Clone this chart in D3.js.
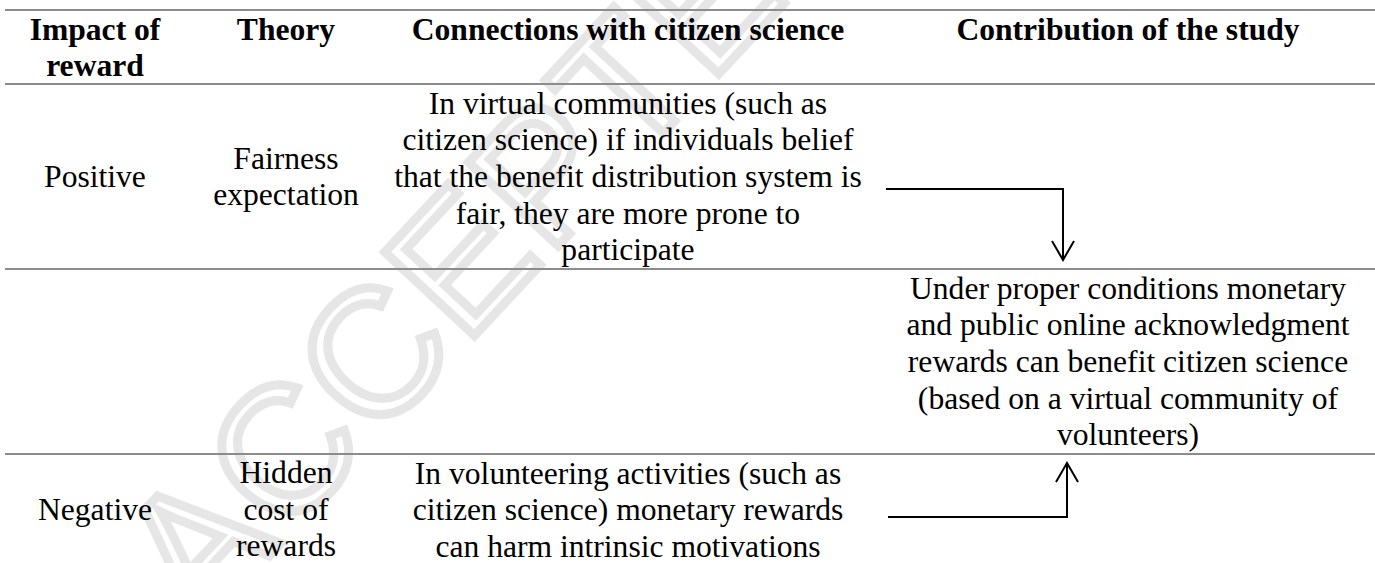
<!DOCTYPE html>
<html>
<head>
<meta charset="utf-8">
<script src="https://cdn.jsdelivr.net/npm/d3@7"></script>
<style>
  html, body { margin: 0; padding: 0; background: #fff; }
  svg { display: block; }
</style>
</head>
<body>
<svg id="chart" width="1375" height="563"></svg>
<script>
// ---------- data ----------
const headers = [
  ["Impact of", "reward"],
  ["Theory"],
  ["Connections with citizen science"],
  ["Contribution of the study"]
];
const impacts = [["Positive"], [], ["Negative"]];
const theories = [["Fairness", "expectation"], [], ["Hidden", "cost of", "rewards"]];
const connections = [
  ["In virtual communities (such as", "citizen science) if individuals belief",
   "that the benefit distribution system is", "fair, they are more prone to", "participate"],
  [],
  ["In volunteering activities (such as", "citizen science) monetary rewards",
   "can harm intrinsic motivations"]
];
const contributions = [
  [],
  ["Under proper conditions monetary", "and public online acknowledgment",
   "rewards can benefit citizen science", "(based on a virtual community of", "volunteers)"],
  []
];
const arrows = [
  { from: 0, to: 1, dir: "down" },
  { from: 2, to: 1, dir: "up" }
];
const watermark = "ACCEPTED";

// ---------- layout ----------
const W = 1375, H = 563;
const svg = d3.select("#chart");
const fontSize = 31.6, lh = 36.6, baseOff = 28.8;
const colX = d3.scaleOrdinal().domain([0, 1, 2, 3]).range([95, 286, 628, 1128]);
const rowTop = [10, 84, 269, 454];
const rowBottom = [84, 269, 454, 564];

// watermark
svg.append("text")
  .attr("transform", "translate(200,630) rotate(-47)")
  .attr("font-family", "'Liberation Sans', Arial, sans-serif")
  .attr("font-size", 178)
  .attr("letter-spacing", 4)
  .attr("fill", "none")
  .attr("stroke", "#e6e6e6")
  .attr("stroke-width", 9)
  .text(watermark);

// rules
const ruleY = [10, 84, 269, 454];
svg.selectAll("line.rule").data(ruleY).join("line")
  .attr("class", "rule")
  .attr("x1", 5).attr("x2", W)
  .attr("y1", d => d).attr("y2", d => d)
  .attr("stroke", "#8c8c8c").attr("stroke-width", 2);

function cellText(lines, col, rowIdx, bold, topAlign) {
  if (!lines.length) return;
  const top = rowTop[rowIdx], bot = rowBottom[rowIdx];
  const start = topAlign ? top + 1 : (top + bot) / 2 - lines.length * lh / 2;
  svg.append("g").selectAll("text").data(lines).join("text")
    .attr("x", colX(col))
    .attr("y", (d, i) => start + baseOff + i * lh)
    .attr("text-anchor", "middle")
    .attr("font-family", "'Liberation Serif', 'Times New Roman', serif")
    .attr("font-size", fontSize)
    .attr("font-weight", bold ? "bold" : "normal")
    .attr("fill", "#000")
    .text(d => d);
}

headers.forEach((h, c) => cellText(h, c, 0, true, true));
for (let r = 0; r < 3; r++) {
  cellText(impacts[r], 0, r + 1, false, false);
  cellText(theories[r], 1, r + 1, false, false);
  cellText(connections[r], 2, r + 1, false, r === 2);
  cellText(contributions[r], 3, r + 1, false, false);
}

// arrows
const arrowGeom = {
  down: { y: 189, x1: 886, x2: 1063, tip: 260 },
  up:   { y: 517, x1: 888, x2: 1067, tip: 463 }
};
arrows.forEach(a => {
  const g = arrowGeom[a.dir];
  const s = a.dir === "down" ? 1 : -1;
  const path = d3.path();
  path.moveTo(g.x1, g.y); path.lineTo(g.x2, g.y); path.lineTo(g.x2, g.tip);
  path.moveTo(g.x2 - 11, g.tip - s * 19); path.lineTo(g.x2, g.tip); path.lineTo(g.x2 + 11, g.tip - s * 19);
  svg.append("path").attr("d", path.toString())
    .attr("fill", "none").attr("stroke", "#000").attr("stroke-width", 2);
});
</script>
</body>
</html>
